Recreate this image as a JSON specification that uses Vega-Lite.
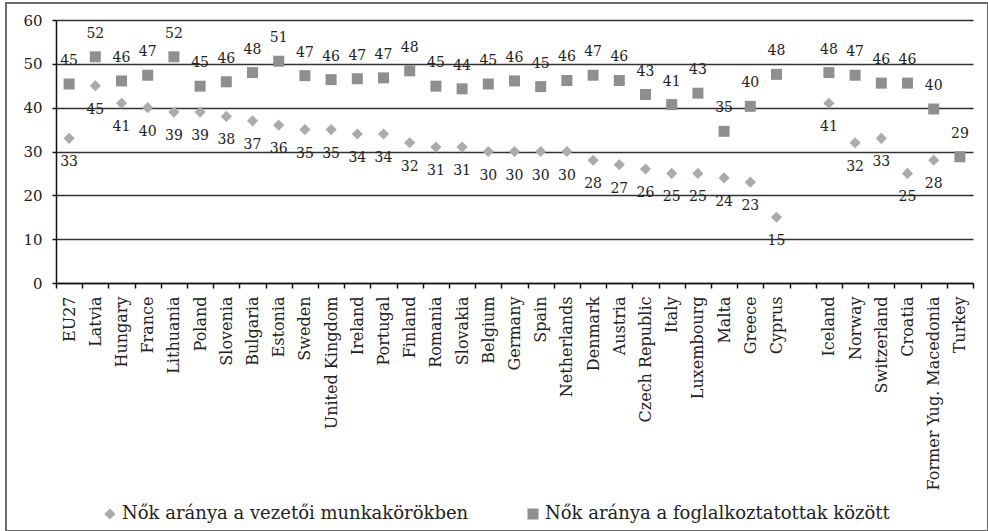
{
  "$schema": "https://vega.github.io/schema/vega-lite/v6.json",
  "width": 982,
  "height": 528,
  "autosize": "none",
  "padding": {"left": 6, "top": 3, "right": 0, "bottom": 0},
  "background": "white",
  "config": {
    "view": {"stroke": "#6b6b6b", "strokeWidth": 2},
    "font": "DejaVu Serif"
  },
  "data": {
    "values": [
      {"country": "EU27", "series": "Nők aránya a vezetői munkakörökben", "value": 33},
      {"country": "Latvia", "series": "Nők aránya a vezetői munkakörökben", "value": 45},
      {"country": "Hungary", "series": "Nők aránya a vezetői munkakörökben", "value": 41},
      {"country": "France", "series": "Nők aránya a vezetői munkakörökben", "value": 40},
      {"country": "Lithuania", "series": "Nők aránya a vezetői munkakörökben", "value": 39},
      {"country": "Poland", "series": "Nők aránya a vezetői munkakörökben", "value": 39},
      {"country": "Slovenia", "series": "Nők aránya a vezetői munkakörökben", "value": 38},
      {"country": "Bulgaria", "series": "Nők aránya a vezetői munkakörökben", "value": 37},
      {"country": "Estonia", "series": "Nők aránya a vezetői munkakörökben", "value": 36},
      {"country": "Sweden", "series": "Nők aránya a vezetői munkakörökben", "value": 35},
      {"country": "United Kingdom", "series": "Nők aránya a vezetői munkakörökben", "value": 35},
      {"country": "Ireland", "series": "Nők aránya a vezetői munkakörökben", "value": 34},
      {"country": "Portugal", "series": "Nők aránya a vezetői munkakörökben", "value": 34},
      {"country": "Finland", "series": "Nők aránya a vezetői munkakörökben", "value": 32},
      {"country": "Romania", "series": "Nők aránya a vezetői munkakörökben", "value": 31},
      {"country": "Slovakia", "series": "Nők aránya a vezetői munkakörökben", "value": 31},
      {"country": "Belgium", "series": "Nők aránya a vezetői munkakörökben", "value": 30},
      {"country": "Germany", "series": "Nők aránya a vezetői munkakörökben", "value": 30},
      {"country": "Spain", "series": "Nők aránya a vezetői munkakörökben", "value": 30},
      {"country": "Netherlands", "series": "Nők aránya a vezetői munkakörökben", "value": 30},
      {"country": "Denmark", "series": "Nők aránya a vezetői munkakörökben", "value": 28},
      {"country": "Austria", "series": "Nők aránya a vezetői munkakörökben", "value": 27},
      {"country": "Czech Republic", "series": "Nők aránya a vezetői munkakörökben", "value": 26},
      {"country": "Italy", "series": "Nők aránya a vezetői munkakörökben", "value": 25},
      {"country": "Luxembourg", "series": "Nők aránya a vezetői munkakörökben", "value": 25},
      {"country": "Malta", "series": "Nők aránya a vezetői munkakörökben", "value": 24},
      {"country": "Greece", "series": "Nők aránya a vezetői munkakörökben", "value": 23},
      {"country": "Cyprus", "series": "Nők aránya a vezetői munkakörökben", "value": 15},
      {"country": "Iceland", "series": "Nők aránya a vezetői munkakörökben", "value": 41},
      {"country": "Norway", "series": "Nők aránya a vezetői munkakörökben", "value": 32},
      {"country": "Switzerland", "series": "Nők aránya a vezetői munkakörökben", "value": 33},
      {"country": "Croatia", "series": "Nők aránya a vezetői munkakörökben", "value": 25},
      {"country": "Former Yug. Macedonia", "series": "Nők aránya a vezetői munkakörökben", "value": 28},
      {"country": "EU27", "series": "Nők aránya a foglalkoztatottak között", "value": 45.4},
      {"country": "Latvia", "series": "Nők aránya a foglalkoztatottak között", "value": 51.6},
      {"country": "Hungary", "series": "Nők aránya a foglalkoztatottak között", "value": 46.1},
      {"country": "France", "series": "Nők aránya a foglalkoztatottak között", "value": 47.4},
      {"country": "Lithuania", "series": "Nők aránya a foglalkoztatottak között", "value": 51.6},
      {"country": "Poland", "series": "Nők aránya a foglalkoztatottak között", "value": 44.9},
      {"country": "Slovenia", "series": "Nők aránya a foglalkoztatottak között", "value": 45.9},
      {"country": "Bulgaria", "series": "Nők aránya a foglalkoztatottak között", "value": 48.0},
      {"country": "Estonia", "series": "Nők aránya a foglalkoztatottak között", "value": 50.6},
      {"country": "Sweden", "series": "Nők aránya a foglalkoztatottak között", "value": 47.3},
      {"country": "United Kingdom", "series": "Nők aránya a foglalkoztatottak között", "value": 46.4},
      {"country": "Ireland", "series": "Nők aránya a foglalkoztatottak között", "value": 46.6},
      {"country": "Portugal", "series": "Nők aránya a foglalkoztatottak között", "value": 46.8},
      {"country": "Finland", "series": "Nők aránya a foglalkoztatottak között", "value": 48.4},
      {"country": "Romania", "series": "Nők aránya a foglalkoztatottak között", "value": 44.9},
      {"country": "Slovakia", "series": "Nők aránya a foglalkoztatottak között", "value": 44.3},
      {"country": "Belgium", "series": "Nők aránya a foglalkoztatottak között", "value": 45.4},
      {"country": "Germany", "series": "Nők aránya a foglalkoztatottak között", "value": 46.1},
      {"country": "Spain", "series": "Nők aránya a foglalkoztatottak között", "value": 44.8},
      {"country": "Netherlands", "series": "Nők aránya a foglalkoztatottak között", "value": 46.2},
      {"country": "Denmark", "series": "Nők aránya a foglalkoztatottak között", "value": 47.4},
      {"country": "Austria", "series": "Nők aránya a foglalkoztatottak között", "value": 46.2},
      {"country": "Czech Republic", "series": "Nők aránya a foglalkoztatottak között", "value": 43.0},
      {"country": "Italy", "series": "Nők aránya a foglalkoztatottak között", "value": 40.7},
      {"country": "Luxembourg", "series": "Nők aránya a foglalkoztatottak között", "value": 43.3},
      {"country": "Malta", "series": "Nők aránya a foglalkoztatottak között", "value": 34.6},
      {"country": "Greece", "series": "Nők aránya a foglalkoztatottak között", "value": 40.3},
      {"country": "Cyprus", "series": "Nők aránya a foglalkoztatottak között", "value": 47.6},
      {"country": "Iceland", "series": "Nők aránya a foglalkoztatottak között", "value": 48.0},
      {"country": "Norway", "series": "Nők aránya a foglalkoztatottak között", "value": 47.4},
      {"country": "Switzerland", "series": "Nők aránya a foglalkoztatottak között", "value": 45.6},
      {"country": "Croatia", "series": "Nők aránya a foglalkoztatottak között", "value": 45.6},
      {"country": "Former Yug. Macedonia", "series": "Nők aránya a foglalkoztatottak között", "value": 39.7},
      {"country": "Turkey", "series": "Nők aránya a foglalkoztatottak között", "value": 28.8}
    ]
  },
  "encoding": {
    "x": {
      "field": "country",
      "type": "nominal",
      "sort": null,
      "scale": {
        "domain": ["EU27", "Latvia", "Hungary", "France", "Lithuania", "Poland", "Slovenia", "Bulgaria", "Estonia", "Sweden", "United Kingdom", "Ireland", "Portugal", "Finland", "Romania", "Slovakia", "Belgium", "Germany", "Spain", "Netherlands", "Denmark", "Austria", "Czech Republic", "Italy", "Luxembourg", "Malta", "Greece", "Cyprus", " ", "Iceland", "Norway", "Switzerland", "Croatia", "Former Yug. Macedonia", "Turkey"],
        "range": [50, 967],
        "paddingInner": 0,
        "paddingOuter": 0
      },
      "axis": {
        "title": null,
        "offset": -248,
        "labelAngle": -90,
        "labelAlign": "right",
        "labelBaseline": "middle",
        "labelFont": "DejaVu Serif",
        "labelFontSize": 16,
        "labelColor": "#222222",
        "labelPadding": 8,
        "labelLimit": 400,
        "labelOverlap": false,
        "tickBand": "extent",
        "tickSize": 5,
        "tickColor": "#111111",
        "tickWidth": 1.5,
        "domainColor": "#111111",
        "domainWidth": 1.5,
        "grid": false
      }
    },
    "y": {
      "field": "value",
      "type": "quantitative",
      "scale": {"domain": [0, 60], "range": [280, 17], "nice": false},
      "axis": {
        "title": null,
        "offset": -50,
        "values": [0, 10, 20, 30, 40, 50, 60],
        "grid": true,
        "gridColor": "#333333",
        "gridWidth": 1.4,
        "tickSize": 4,
        "tickColor": "#111111",
        "tickWidth": 1.5,
        "domainColor": "#111111",
        "domainWidth": 1.5,
        "labelPadding": 10,
        "labelFont": "DejaVu Serif",
        "labelFontSize": 15,
        "labelColor": "#222222"
      }
    }
  },
  "layer": [
    {
      "mark": {"type": "point", "filled": true, "opacity": 1, "strokeWidth": 0},
      "encoding": {
        "color": {
          "field": "series",
          "type": "nominal",
          "scale": {"domain": ["Nők aránya a vezetői munkakörökben", "Nők aránya a foglalkoztatottak között"], "range": ["#ababab", "#8f8f8f"]},
          "legend": {
            "orient": "none",
            "legendX": 95,
            "legendY": 502,
            "direction": "horizontal",
            "title": null,
            "labelFont": "DejaVu Serif",
            "labelFontSize": 18,
            "labelColor": "#222222",
            "labelLimit": 500,
            "labelOffset": 3,
            "symbolSize": 64,
            "columnPadding": 55
          }
        },
        "shape": {
          "field": "series",
          "type": "nominal",
          "scale": {"domain": ["Nők aránya a vezetői munkakörökben", "Nők aránya a foglalkoztatottak között"], "range": ["diamond", "square"]}
        },
        "size": {
          "field": "series",
          "type": "nominal",
          "scale": {"domain": ["Nők aránya a vezetői munkakörökben", "Nők aránya a foglalkoztatottak között"], "range": [125, 121]},
          "legend": null
        }
      }
    },
    {
      "transform": [{"filter": "datum.series === 'Nők aránya a foglalkoztatottak között'"}],
      "mark": {"type": "text", "dy": -23, "font": "DejaVu Serif", "fontSize": 14, "color": "#222222"},
      "encoding": {"text": {"field": "value", "type": "quantitative", "format": ".0f"}}
    },
    {
      "transform": [{"filter": "datum.series === 'Nők aránya a vezetői munkakörökben'"}],
      "mark": {"type": "text", "dy": 24, "font": "DejaVu Serif", "fontSize": 14, "color": "#222222"},
      "encoding": {"text": {"field": "value", "type": "quantitative", "format": ".0f"}}
    }
  ]
}
